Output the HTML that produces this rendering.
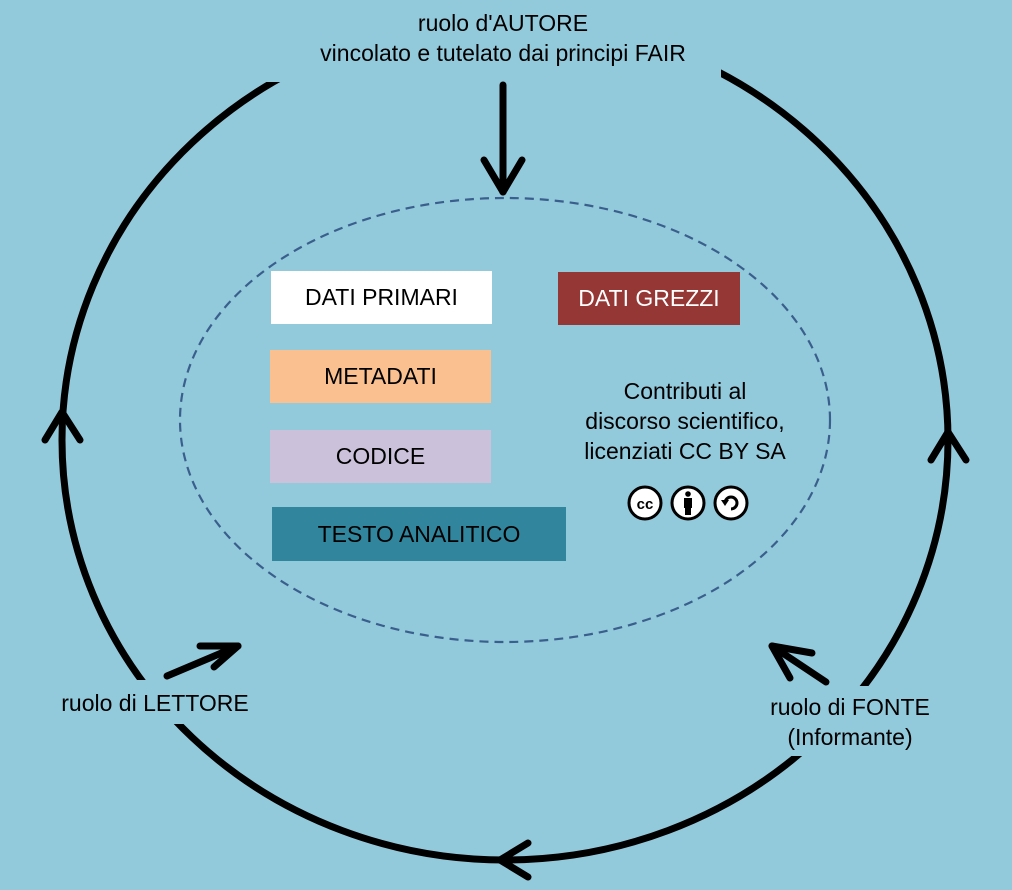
<!DOCTYPE html>
<html><head><style>
html,body{margin:0;padding:0;}
body{width:1012px;height:890px;background:#92cadc;position:relative;overflow:hidden;font-family:"Liberation Sans","DejaVu Sans",sans-serif;}
.t{position:absolute;color:#000;font-size:23px;text-align:center;line-height:30px;white-space:nowrap;}
.bg{background:#92cadc;}
.box{position:absolute;display:flex;align-items:center;justify-content:center;font-size:23px;}
</style></head><body>
<svg width="1012" height="890" style="position:absolute;left:0;top:0">
<ellipse cx="505" cy="440" rx="443" ry="420" fill="none" stroke="#000" stroke-width="7"/>
<rect x="265" y="0" width="456" height="82" fill="#92cadc"/>
<ellipse cx="505" cy="420" rx="325" ry="222" fill="none" stroke="#3a5f8c" stroke-width="2.2" stroke-dasharray="9,6"/>
<rect x="44" y="680" width="218" height="44" fill="#92cadc"/>
<rect x="752" y="686" width="196" height="70" fill="#92cadc"/>
<g stroke="#000" stroke-width="7" fill="none" stroke-linecap="round" stroke-linejoin="round">
<polyline points="45,440 62,412 80,440"/>
<polyline points="931,460 948,432 966,460"/>
<polyline points="528,843 500,860 528,877"/>
<line x1="503" y1="85" x2="503" y2="192"/>
<polyline points="484,160 503,192 522,160"/>
<line x1="167" y1="676" x2="238" y2="646"/>
<polyline points="200,646 238,646 214,667"/>
<line x1="772" y1="646" x2="826" y2="682"/>
<polyline points="812,653 772,646 790,678"/>
</g>
<g stroke="#000" stroke-width="3" fill="#fff">
<circle cx="645" cy="503" r="16"/><circle cx="688" cy="503" r="16"/><circle cx="731" cy="503" r="16"/>
</g>
<text x="645" y="509" font-size="15" font-weight="bold" text-anchor="middle" font-family="Liberation Sans">cc</text>
<circle cx="688" cy="494" r="2.8" fill="#000"/>
<rect x="684" y="498" width="8" height="10" fill="#000"/><rect x="685" y="506" width="6" height="9" fill="#000"/>
<path d="M725 503 A6 6 0 1 1 731 509" fill="none" stroke="#000" stroke-width="3"/>
<polygon points="721,500 729,500 725,506" fill="#000"/>
</svg>
<div class="t" style="left:265px;top:8px;width:476px;">ruolo d'AUTORE<br>vincolato e tutelato dai principi FAIR</div>
<div class="t" style="left:40px;top:688px;width:230px;">ruolo di LETTORE</div>
<div class="t" style="left:740px;top:692px;width:220px;">ruolo di FONTE<br>(Informante)</div>
<div class="t" style="left:555px;top:376px;width:260px;">Contributi al<br>discorso scientifico,<br>licenziati CC BY SA</div>
<div class="box" style="left:271px;top:271px;width:221px;height:53px;background:#fff;">DATI PRIMARI</div>
<div class="box" style="left:558px;top:272px;width:182px;height:53px;background:#953735;color:#fff;">DATI GREZZI</div>
<div class="box" style="left:270px;top:350px;width:221px;height:53px;background:#fac090;">METADATI</div>
<div class="box" style="left:270px;top:430px;width:221px;height:53px;background:#ccc1da;">CODICE</div>
<div class="box" style="left:272px;top:507px;width:294px;height:54px;background:#31859c;">TESTO ANALITICO</div>
</body></html>
